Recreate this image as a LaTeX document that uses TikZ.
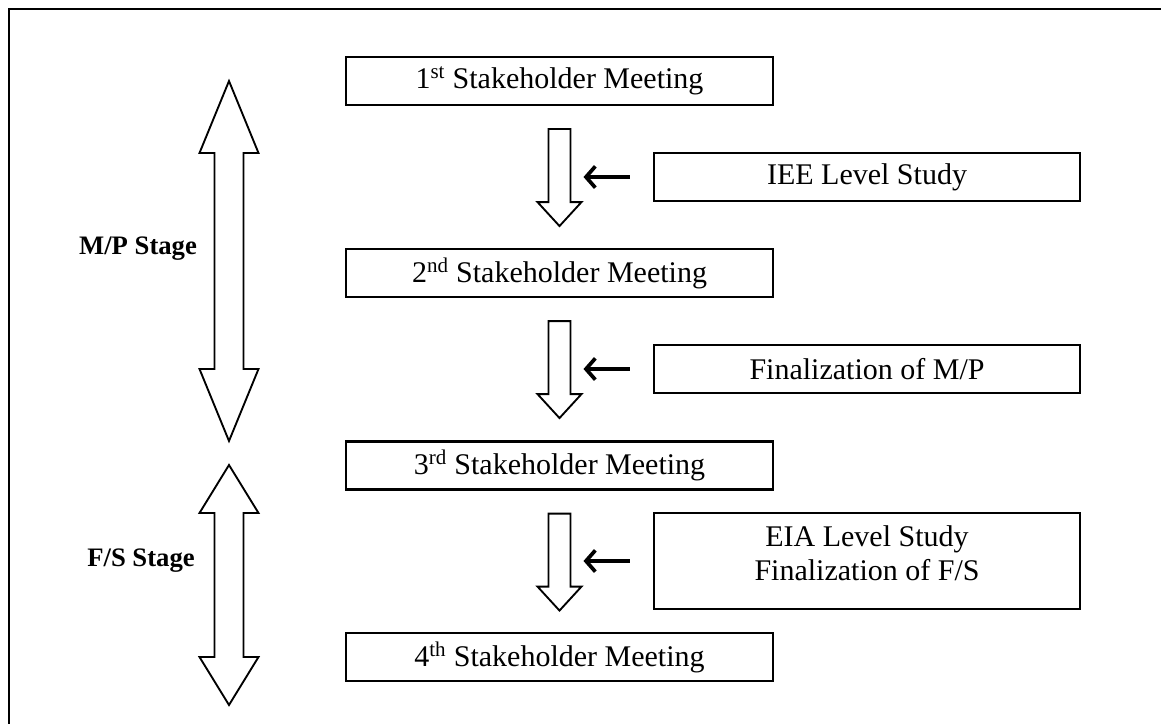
\documentclass[tikz,border=0pt]{standalone}
\usepackage{fontspec}
\setmainfont{Liberation Serif}
\usetikzlibrary{arrows.meta}

\begin{document}
\begin{tikzpicture}[x = 0.75pt, y = -0.75pt,
	box/.style = {draw, line width = 1.6pt, minimum width = 320pt, minimum height = 36pt, inner sep = 0pt, font = \fontsize{22.5}{25.5}\selectfont},
	hollow/.style = {draw, line width = 1.4pt, line join = miter, fill = white},
	feed/.style = {line width = 2.8pt, -{Straight Barb[length = 7pt, width = 16pt]}},
	stage/.style = {font = \fontsize{20}{24}\selectfont\bfseries}]
	\useasboundingbox (0,0) rectangle (1161,724);
	\draw [line width = 2pt] (9,730) -- (9,9) -- (1170,9);
	% meetings
	\node [box] (m1) at (559.5,81) {1\textsuperscript{st} Stakeholder Meeting};
	\node [box] (m2) at (559.5,273) {2\textsuperscript{nd} Stakeholder Meeting};
	\node [box] (m3) at (559.5,465.5) {3\textsuperscript{rd} Stakeholder Meeting};
	\node [box] (m4) at (559.5,657) {4\textsuperscript{th} Stakeholder Meeting};
	% studies
	\node [box] (iee) at (867,177) {IEE Level Study};
	\node [box] (fmp) at (867,369) {Finalization of M/P};
	\node [box, minimum height = 72pt, align = center] (eia) at (867,561) {EIA Level Study\\Finalization of F/S\\[-13pt]\mbox{}};
	% hollow arrows between meetings
	\foreach \a/\s in {m1/sa, m2/sb, m3/sc}{
	\draw [hollow, shift = {(\a.south)}] (-11,23) -- (11,23) -- (11,96) -- (22,96) -- (0,120) -- (-22,96) -- (-11,96) -- cycle;
	\path (\a.south) ++(11,60) coordinate (\s);
	}
	\draw [feed, shorten <= 17.25pt, shorten >= 9.75pt] (iee.west) -- (iee.west -| sa);
	\draw [feed, shorten <= 17.25pt, shorten >= 9.75pt] (fmp.west) -- (fmp.west -| sb);
	\draw [feed, shorten <= 17.25pt, shorten >= 9.75pt] (eia.west) -- (eia.west -| sc);
	% stages
	\foreach \t/\b/\h in {81/441/72, 465/705/48}{
	\draw [hollow] (229,\t) -- (258.5,\t+\h) -- (243.5,\t+\h) -- (243.5,\b-\h) -- (258.5,\b-\h) -- (229,\b) -- (199.5,\b-\h) -- (214.5,\b-\h) -- (214.5,\t+\h) -- (199.5,\t+\h) -- cycle;
	}
	\node [stage, anchor = base] (mp) at (138,254) {M/P Stage};
	\node [stage, anchor = base] (fs) at (141,566) {F/S Stage};
\end{tikzpicture}
\end{document}
